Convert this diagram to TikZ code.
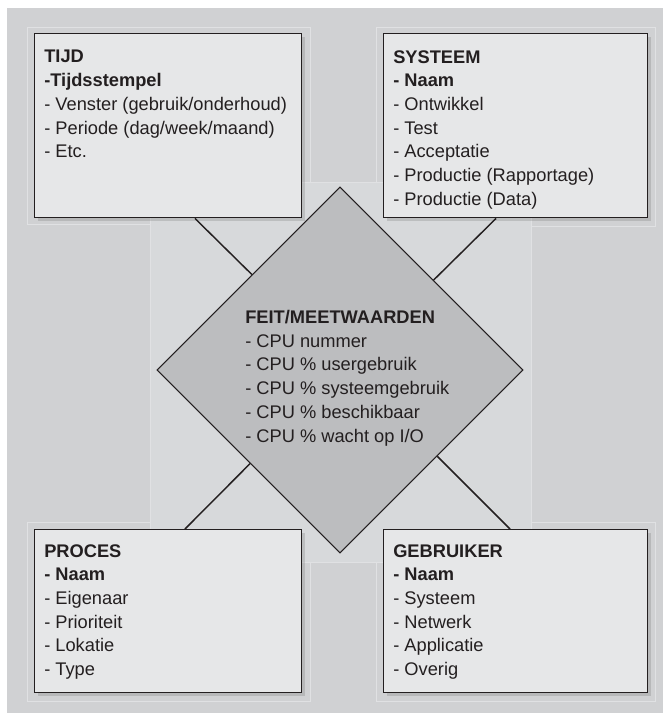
\documentclass[tikz,border=0pt]{standalone}
\usepackage{fontspec}
\setmainfont{Liberation Sans}
\usetikzlibrary{shapes.geometric,shadows,calc}
\definecolor{bggray}{RGB}{208,209,211}
\definecolor{midgray}{RGB}{215,217,219}
\definecolor{faintline}{RGB}{224,225,227}
\definecolor{boxfill}{RGB}{230,231,232}
\definecolor{feitfill}{RGB}{188,189,191}
\definecolor{inkline}{RGB}{35,31,32}
\newcommand{\bodyfont}{\fontsize{13.7}{17.8}\selectfont}

\begin{document}
\begin{tikzpicture}[x=0.75pt,y=-0.75pt,
  entity/.style={draw=inkline,line width=1.1pt,fill=boxfill,anchor=north west,inner sep=0pt,
    drop shadow={shadow xshift=2.5pt,shadow yshift=-2.5pt,opacity=0.3}},
  boxtext/.style={anchor=north west,inner sep=0pt,align=left,font=\bodyfont,text=inkline},
  link/.style={draw=inkline,line width=1.1pt},
  faint/.style={draw=faintline,line width=0.5pt}]
\useasboundingbox (0,0) rectangle (663,716);
\fill[white] (0,0) rectangle (663,716);
\fill[bggray] (7,8) rectangle (663,713);
% faint frames behind the boxes
\draw[faint] (27,27) rectangle (310,224);
\draw[faint] (376,27) rectangle (655,226);
\draw[faint] (27,522) rectangle (310,701);
\draw[faint] (376,522) rectangle (655,701);
\fill[midgray] (150,182) rectangle (531,562);
\draw[faint] (150,182) rectangle (531,562);

% central fact
\node[diamond,draw=inkline,line width=0.8pt,fill=feitfill,inner sep=0pt,
  minimum width=274.5pt,minimum height=274.5pt] (feit) at (340,370) {};
\node[boxtext] (feittxt) at (245,310) {\textbf{FEIT/MEETWAARDEN}\\- CPU nummer\\- CPU \% usergebruik\\- CPU \% systeemgebruik\\- CPU \% beschikbaar\\- CPU \% wacht op I/O};

% dimensions
\node[entity,minimum width=200.25pt,minimum height=138pt] (tijd) at (34,33) {};
\node[boxtext] (tijdtxt) at (44,50) {\textbf{TIJD}\\\textbf{-Tijdsstempel}\\- Venster (gebruik/onderhoud)\\- Periode (dag/week/maand)\\- Etc.};
\node[entity,minimum width=198pt,minimum height=138pt] (systeem) at (383,33) {};
\node[boxtext] (systeemtxt) at (393,50) {\textbf{SYSTEEM}\\\textbf{- Naam}\\- Ontwikkel\\- Test\\- Acceptatie\\- Productie (Rapportage)\\- Productie (Data)};
\node[entity,minimum width=200.25pt,minimum height=122.25pt] (proces) at (34,529) {};
\node[boxtext] (procestxt) at (44,544) {\textbf{PROCES}\\\textbf{- Naam}\\- Eigenaar\\- Prioriteit\\- Lokatie\\- Type};
\node[entity,minimum width=198pt,minimum height=122.25pt] (gebruiker) at (383,529) {};
\node[boxtext] (gebruikertxt) at (393,544) {\textbf{GEBRUIKER}\\\textbf{- Naam}\\- Systeem\\- Netwerk\\- Applicatie\\- Overig};

% connectors
\draw[link] ($(feit.west)!0.52!(feit.north)$) -- (tijd.south -| 195,0);
\draw[link] ($(feit.north)!0.51!(feit.east)$) -- (systeem.south -| 496,0);
\draw[link] ($(feit.west)!0.51!(feit.south)$) -- (proces.north -| 185,0);
\draw[link] ($(feit.east)!0.47!(feit.south)$) -- (gebruiker.north -| 510,0);
\end{tikzpicture}
\end{document}
